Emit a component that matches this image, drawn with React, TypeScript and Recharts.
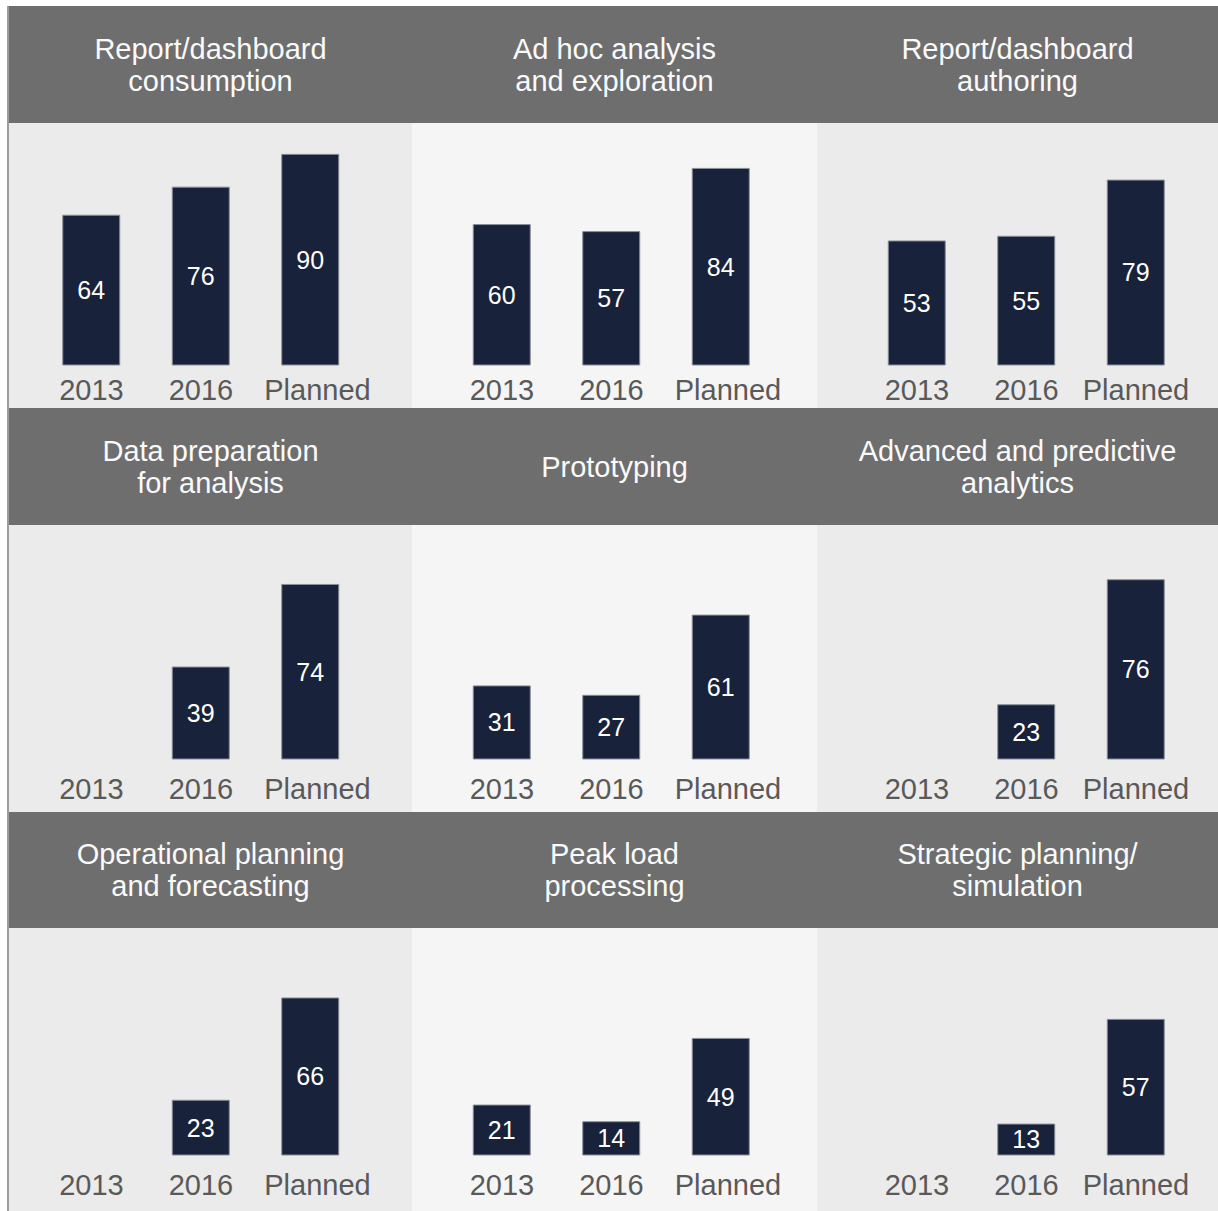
import { BarChart, Bar, XAxis, YAxis, LabelList } from 'recharts';

const years = ['2013', '2016', 'Planned'];

const titles = [
  'Report/dashboard\nconsumption',
  'Ad hoc analysis\nand exploration',
  'Report/dashboard\nauthoring',
  'Data preparation\nfor analysis',
  'Prototyping',
  'Advanced and predictive\nanalytics',
  'Operational planning\nand forecasting',
  'Peak load\nprocessing',
  'Strategic planning/\nsimulation',
];

const reportConsumption = [64, 76, 90];
const adHocAnalysis = [60, 57, 84];
const reportAuthoring = [53, 55, 79];
const dataPreparation = [null, 39, 74];
const prototyping = [31, 27, 61];
const advancedAnalytics = [null, 23, 76];
const operationalPlanning = [null, 23, 66];
const peakLoad = [21, 14, 49];
const strategicPlanning = [null, 13, 57];

const panelValues = [
  reportConsumption, adHocAnalysis, reportAuthoring,
  dataPreparation, prototyping, advancedAnalytics,
  operationalPlanning, peakLoad, strategicPlanning,
];

// layout (px)
const COL_W = [403, 405, 401];
const COL_LEFT = [27.75, 35.25, 45.25];
const PLOT_W = 328.5;
const HEAD_H = [117, 117, 116];
const BODY_H = [285, 287, 283];
const BASE = [242, 234, 227];
const TOP_VAL = [103.4, 99.2, 95.4];
const TICK_OFF = [25, 30, 29.5];
const PLANNED_DX = [7, 7, 0];
const BODY_BG = ['#ebebeb', '#f5f5f5', '#ebebeb'];
const FONT = '"Liberation Sans", Arial, sans-serif';

function YearTick(props: any) {
  const { x, y, payload, off, pdx } = props;
  const dx = payload.value === 'Planned' ? pdx : 0;
  return (
    <text x={x + dx} y={y + off + 10.4} textAnchor="middle" fill="#595959" fontSize={29} fontFamily={FONT}>
      {payload.value}
    </text>
  );
}

function Panel({ idx }: { idx: number }) {
  const r = Math.floor(idx / 3);
  const c = idx % 3;
  const data = years.map((year, i) => ({ year, value: panelValues[idx][i] }));
  const w = COL_W[c];
  return (
    <div style={{ width: w }}>
      <div
        style={{
          height: HEAD_H[r], background: '#6e6e6e', color: '#fafafa', fontSize: 29, lineHeight: '32px',
          display: 'flex', alignItems: 'center', justifyContent: 'center', textAlign: 'center', whiteSpace: 'pre-line',
        }}
      >
        {titles[idx]}
      </div>
      <div style={{ height: BODY_H[r], background: BODY_BG[c] }}>
        <BarChart
          width={w} height={BODY_H[r]} data={data}
          margin={{ top: 0, bottom: 0, left: COL_LEFT[c], right: w - COL_LEFT[c] - PLOT_W }}
        >
          <XAxis
            dataKey="year" axisLine={false} tickLine={false} tickSize={0} tickMargin={0} interval={0}
            height={BODY_H[r] - BASE[r]}
            tick={(p: any) => <YearTick {...p} off={TICK_OFF[r]} pdx={PLANNED_DX[c]} />}
          />
          <YAxis hide domain={[0, TOP_VAL[r]]} />
          <Bar dataKey="value" barSize={57} fill="#18223a" stroke="#8a8f99" strokeWidth={1} isAnimationActive={false}>
            <LabelList dataKey="value" position="center" fill="#ffffff" fontSize={25} />
          </Bar>
        </BarChart>
      </div>
    </div>
  );
}

export default function App() {
  return (
    <div
      style={{
        position: 'absolute', left: 7, top: 6, width: 1209, borderLeft: '2px solid #9c9c9c',
        display: 'flex', flexWrap: 'wrap', fontFamily: FONT,
      }}
    >
      {titles.map((_, i) => <Panel key={i} idx={i} />)}
    </div>
  );
}
